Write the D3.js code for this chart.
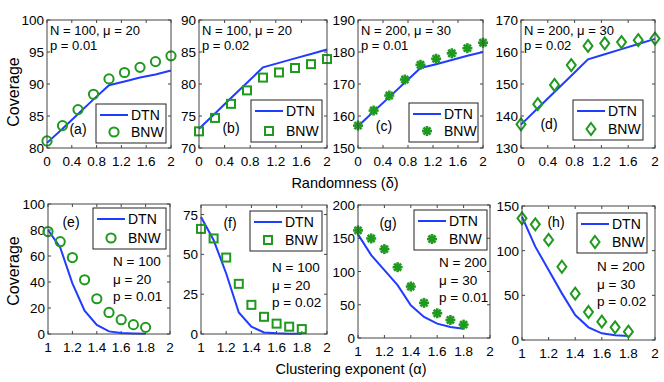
<!DOCTYPE html>
<html>
<head>
<meta charset="utf-8">
<script src="https://cdn.jsdelivr.net/npm/d3@7"></script>
<style>
  body { margin: 0; background: #fff; }
  text { font-family: "Liberation Sans", Arial, sans-serif; fill: #000; }
</style>
</head>
<body>
<script>
// x values
var deltas = [0, 0.25, 0.5, 0.75, 1, 1.25, 1.5, 1.75, 2];
var alphas = [1, 1.1, 1.2, 1.3, 1.4, 1.5, 1.6, 1.7, 1.8];
var deltaTicks = [0, 0.4, 0.8, 1.2, 1.6, 2];
var alphaTicks = [1, 1.2, 1.4, 1.6, 1.8, 2];

// top row: coverage vs randomness
var dtnA = [80.8, 83.0, 85.3, 87.6, 89.8, 90.4, 91.0, 91.5, 92.1];
var bnwA = [81.1, 83.5, 86.0, 88.4, 90.8, 91.8, 92.6, 93.5, 94.4];
var dtnB = [73.0, 75.4, 77.8, 80.2, 82.6, 83.3, 84.0, 84.7, 85.4];
var bnwB = [72.6, 74.7, 76.9, 79.0, 81.0, 81.8, 82.5, 83.1, 83.9];
var dtnC = [156.8, 161.4, 165.9, 170.5, 175.0, 176.2, 177.5, 178.8, 180.0];
var bnwC = [157.0, 161.7, 166.4, 171.4, 176.0, 177.9, 179.6, 181.2, 182.9];
var dtnD = [137.3, 142.4, 147.5, 152.6, 157.7, 159.3, 160.9, 162.5, 164.1];
var bnwD = [137.4, 143.7, 149.7, 155.9, 161.9, 162.7, 163.1, 163.7, 164.2];

// bottom row: coverage vs clustering exponent
var dtnE = [80, 66.5, 39, 18, 7, 2, 0.8, 0.4, 0.2];
var bnwE = [78.8, 71, 58.8, 41.7, 27.1, 16.6, 11, 7.2, 5.1];
var dtnF = [73.5, 59, 38, 13.5, 4.6, 1, 0.4, 0.2, 0.1];
var bnwF = [66, 60, 48, 31.5, 18.3, 10.8, 6.5, 4.6, 3.1];
var dtnG = [155.8, 124.6, 102, 79.4, 49.2, 31.7, 21.6, 16.6, 14];
var bnwG = [161.8, 149.7, 133.7, 106.5, 77.4, 52.8, 37.2, 27.1, 20.1];
var dtnH = [138, 104.5, 78.4, 52.2, 28, 14.2, 7.5, 5.2, 4.5];
var bnwH = [136.2, 129.5, 112, 82, 51.9, 31.3, 20.5, 14.2, 9.3];

var yTicksA = [80, 85, 90, 95, 100];
var yTicksB = [70, 75, 80, 85, 90];
var yTicksC = [150, 160, 170, 180, 190];
var yTicksD = [130, 140, 150, 160, 170];
var yTicksE = [0, 20, 40, 60, 80, 100];
var yTicksF = [0, 25, 50, 75];
var yTicksG = [0, 50, 100, 150, 200];
var yTicksH = [0, 50, 100, 150];

var notesTop = [["N = 100, \u03bc = 20", "p = 0.01"], ["N = 100, \u03bc = 20", "p = 0.02"],
                ["N = 200, \u03bc = 30", "p = 0.01"], ["N = 200, \u03bc = 30", "p = 0.02"]];
var notesBot = [["N = 100", "\u03bc = 20", "p = 0.01"], ["N = 100", "\u03bc = 20", "p = 0.02"],
                ["N = 200", "\u03bc = 30", "p = 0.01"], ["N = 200", "\u03bc = 30", "p = 0.02"]];
var tags = ["(a)", "(b)", "(c)", "(d)", "(e)", "(f)", "(g)", "(h)"];

var blue = "#1f3cff", green = "#1f9a1f";

var panels = [
  {x: [47,171], y: [20,148], xs: deltas, xd: [0,2], xt: deltaTicks, yd: [80,100], yt: yTicksA, dtn: dtnA, bnw: bnwA, mk: "circle", note: notesTop[0], tag: [78,129], leg: [96,104,70,39]},
  {x: [199,327], y: [20,148], xs: deltas, xd: [0,2], xt: deltaTicks, yd: [70,90], yt: yTicksB, dtn: dtnB, bnw: bnwB, mk: "square", note: notesTop[1], tag: [231,128], leg: [251,100,71,42]},
  {x: [358,483], y: [20,148], xs: deltas, xd: [0,2], xt: deltaTicks, yd: [150,190], yt: yTicksC, dtn: dtnC, bnw: bnwC, mk: "star", note: notesTop[2], tag: [384,126], leg: [409,103,69,39]},
  {x: [521,655], y: [20,148], xs: deltas, xd: [0,2], xt: deltaTicks, yd: [130,170], yt: yTicksD, dtn: dtnD, bnw: bnwD, mk: "diamond", note: notesTop[3], tag: [549,124], leg: [573,100,70,40]},
  {x: [48,170], y: [204,334], xs: alphas, xd: [1,2], xt: alphaTicks, yd: [0,100], yt: yTicksE, dtn: dtnE, bnw: bnwE, mk: "circle", note: notesBot[0], noteAt: [113,266], tag: [71,222], leg: [93,208,73,41]},
  {x: [201,327], y: [205,334], xs: alphas, xd: [1,2], xt: alphaTicks, yd: [0,81], yt: yTicksF, dtn: dtnF, bnw: bnwF, mk: "square", note: notesBot[1], noteAt: [272,272], tag: [230,223], leg: [250,211,72,40]},
  {x: [358,490], y: [205,338], xs: alphas, xd: [1,2], xt: alphaTicks, yd: [0,200], yt: yTicksG, dtn: dtnG, bnw: bnwG, mk: "star", note: notesBot[2], noteAt: [439,267], tag: [388,223], leg: [414,210,73,40]},
  {x: [522,655], y: [206,340], xs: alphas, xd: [1,2], xt: alphaTicks, yd: [0,150], yt: yTicksH, dtn: dtnH, bnw: bnwH, mk: "diamond", note: notesBot[3], noteAt: [597,271], tag: [556,222], leg: [577,213,70,40]}
];

function marker(g, type, cx, cy) {
  if (type == "circle") {
    g.append("circle").attr("cx", cx).attr("cy", cy).attr("r", 4.6)
      .attr("fill", "none").attr("stroke", green).attr("stroke-width", 2);
  } else if (type == "square") {
    g.append("rect").attr("x", cx-4).attr("y", cy-4).attr("width", 8).attr("height", 8)
      .attr("fill", "none").attr("stroke", green).attr("stroke-width", 2);
  } else if (type == "diamond") {
    g.append("path").attr("d", "M"+cx+","+(cy-6)+"L"+(cx+4.5)+","+cy+"L"+cx+","+(cy+6)+"L"+(cx-4.5)+","+cy+"Z")
      .attr("fill", "none").attr("stroke", green).attr("stroke-width", 2);
  } else {
    [0, 45, 90, 135].forEach(function(a){
      var r = 5, dx = r*Math.cos(a*Math.PI/180), dy = r*Math.sin(a*Math.PI/180);
      g.append("line").attr("x1", cx-dx).attr("y1", cy-dy).attr("x2", cx+dx).attr("y2", cy+dy)
        .attr("stroke", green).attr("stroke-width", 2.6);
    });
  }
}

var svg = d3.select("body").append("svg").attr("width", 664).attr("height", 382);

panels.forEach(function(p, k){
  var x = d3.scaleLinear().domain(p.xd).range(p.x);
  var y = d3.scaleLinear().domain(p.yd).range([p.y[1], p.y[0]]);
  var g = svg.append("g");

  // ticks (inward, mirrored)
  p.xt.forEach(function(t){
    g.append("line").attr("x1", x(t)).attr("x2", x(t)).attr("y1", p.y[1]).attr("y2", p.y[1]-3).attr("stroke", "#444");
    g.append("line").attr("x1", x(t)).attr("x2", x(t)).attr("y1", p.y[0]).attr("y2", p.y[0]+3).attr("stroke", "#444");
    g.append("text").attr("x", x(t)).attr("y", p.y[1]+18).attr("text-anchor", "middle")
      .style("font-size", "13.5px").text(t);
  });
  p.yt.forEach(function(t){
    g.append("line").attr("x1", p.x[0]).attr("x2", p.x[0]+3).attr("y1", y(t)).attr("y2", y(t)).attr("stroke", "#444");
    g.append("line").attr("x1", p.x[1]).attr("x2", p.x[1]-3).attr("y1", y(t)).attr("y2", y(t)).attr("stroke", "#444");
    g.append("text").attr("x", p.x[0]-3).attr("y", y(t)+5).attr("text-anchor", "end")
      .style("font-size", "13.5px").text(t);
  });

  var line = d3.line().x(function(d, i){ return x(p.xs[i]); }).y(function(d){ return y(d); });
  g.append("path").datum(p.dtn).attr("d", line).attr("fill", "none")
    .attr("stroke", blue).attr("stroke-width", 2);

  var mg = g.append("g");
  p.bnw.forEach(function(v, i){ marker(mg, p.mk, x(p.xs[i]), y(v)); });

  g.append("rect").attr("x", p.x[0]).attr("y", p.y[0])
    .attr("width", p.x[1]-p.x[0]).attr("height", p.y[1]-p.y[0])
    .attr("fill", "none").attr("stroke", "#444").attr("stroke-width", 1);

  // notes
  if (k < 4) {
    p.note.forEach(function(s, j){
      g.append("text").attr("x", p.x[0]+3).attr("y", p.y[0]+15+j*15)
        .style("font-size", "13px").text(s);
    });
  } else {
    p.note.forEach(function(s, j){
      g.append("text").attr("x", p.noteAt[0]).attr("y", p.noteAt[1]+j*17.5)
        .style("font-size", "13.5px").text(s);
    });
  }
  g.append("text").attr("x", p.tag[0]).attr("y", p.tag[1]+5).attr("text-anchor", "middle")
    .style("font-size", "14px").text(tags[k]);

  // legend
  var L = p.leg;
  g.append("rect").attr("x", L[0]).attr("y", L[1]).attr("width", L[2]).attr("height", L[3])
    .attr("fill", "#fff").attr("stroke", "#222").attr("stroke-width", 1);
  g.append("line").attr("x1", L[0]+4).attr("x2", L[0]+32).attr("y1", L[1]+11).attr("y2", L[1]+11)
    .attr("stroke", blue).attr("stroke-width", 2);
  g.append("text").attr("x", L[0]+35).attr("y", L[1]+16).style("font-size", "14px").text("DTN");
  marker(g, p.mk, L[0]+18, L[1]+L[3]-11);
  g.append("text").attr("x", L[0]+35).attr("y", L[1]+L[3]-6).style("font-size", "14px").text("BNW");
});

svg.append("text").attr("transform", "translate(19,92) rotate(-90)").attr("text-anchor", "middle")
  .style("font-size", "16px").text("Coverage");
svg.append("text").attr("transform", "translate(19,271) rotate(-90)").attr("text-anchor", "middle")
  .style("font-size", "16px").text("Coverage");
svg.append("text").attr("x", 345).attr("y", 188).attr("text-anchor", "middle")
  .style("font-size", "14.5px").text("Randomness (\u03b4)");
svg.append("text").attr("x", 351).attr("y", 374).attr("text-anchor", "middle")
  .style("font-size", "14.5px").text("Clustering exponent (\u03b1)");
</script>
</body>
</html>
